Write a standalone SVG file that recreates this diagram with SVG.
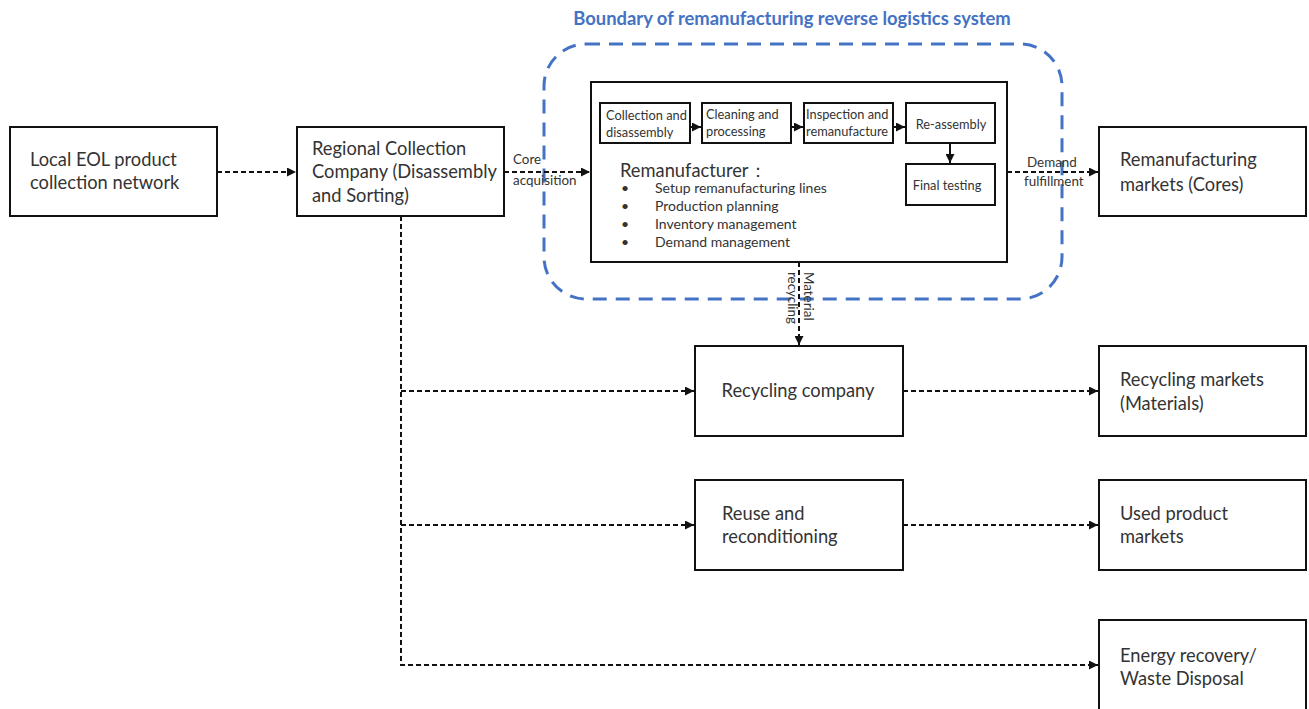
<svg xmlns="http://www.w3.org/2000/svg" width="1309" height="709" viewBox="0 0 1309 709">
<defs>
<marker id="ah" viewBox="0 0 10 10" refX="10" refY="5" markerWidth="9" markerHeight="9" markerUnits="userSpaceOnUse" orient="auto"><path d="M0,0 L10,5 L0,10 Z" fill="#111"/></marker>
</defs>
<style>
.box{fill:#fff;stroke:#111;stroke-width:2}
.t{font-family:Lato,"Open Sans","Liberation Sans",sans-serif;fill:#333;font-size:18.3px}
.s{font-family:Lato,"Open Sans","Liberation Sans",sans-serif;fill:#333;font-size:12.8px}
.b{font-family:Lato,"Open Sans","Liberation Sans",sans-serif;fill:#333;font-size:14px}
.l{font-family:Lato,"Open Sans","Liberation Sans",sans-serif;fill:#333;font-size:13.4px}
.d{fill:none;stroke:#111;stroke-width:2;stroke-dasharray:5,3}
.a{fill:none;stroke:#111;stroke-width:2}
</style>
<rect width="1309" height="709" fill="#fff"/>
<g id="boundary">
<rect x="544" y="44" width="518" height="255" rx="42" fill="none" stroke="#4472c4" stroke-width="3" stroke-dasharray="14,9"/>
<text x="792" y="25" text-anchor="middle" font-family="Lato,'Open Sans','Liberation Sans',sans-serif" font-weight="bold" font-size="18.4" fill="#4472c4">Boundary of remanufacturing reverse logistics system</text>
</g>
<g id="local-eol">
<rect class="box" x="10" y="127" width="207" height="89"/>
<text class="t" x="30" y="166">Local EOL product</text>
<text class="t" x="30" y="189">collection network</text>
</g>
<g id="regional">
<rect class="box" x="297" y="127" width="207" height="89"/>
<text class="t" x="312" y="155">Regional Collection</text>
<text class="t" x="312" y="178">Company (Disassembly</text>
<text class="t" x="312" y="202">and Sorting)</text>
</g>
<g id="remanufacturer">
<rect class="box" x="591" y="82" width="416" height="180"/>
<text class="t" x="620" y="177">Remanufacturer：</text>
<text class="b" x="621" y="193">•</text><text class="b" x="655" y="193">Setup remanufacturing lines</text>
<text class="b" x="621" y="211">•</text><text class="b" x="655" y="211">Production planning</text>
<text class="b" x="621" y="229">•</text><text class="b" x="655" y="229">Inventory management</text>
<text class="b" x="621" y="247">•</text><text class="b" x="655" y="247">Demand management</text>
</g>
<g id="step-collection">
<rect class="box" x="600" y="103" width="90" height="40"/>
<text class="s" x="606" y="120">Collection and</text>
<text class="s" x="606" y="137">disassembly</text>
</g>
<g id="step-cleaning">
<rect class="box" x="702" y="103" width="89" height="40"/>
<text class="s" x="706" y="119">Cleaning and</text>
<text class="s" x="706" y="136">processing</text>
</g>
<g id="step-inspection">
<rect class="box" x="804" y="103" width="89" height="40"/>
<text class="s" x="806" y="119">Inspection and</text>
<text class="s" x="806" y="136">remanufacture</text>
</g>
<g id="step-reassembly">
<rect class="box" x="906" y="103" width="89" height="40"/>
<text class="s" x="951" y="129" text-anchor="middle">Re-assembly</text>
</g>
<g id="step-final">
<rect class="box" x="906" y="164" width="89" height="41"/>
<text class="s" x="947" y="190" text-anchor="middle">Final testing</text>
</g>
<g id="reman-markets">
<rect class="box" x="1099" y="127" width="207" height="89"/>
<text class="t" x="1120" y="166">Remanufacturing</text>
<text class="t" x="1120" y="191">markets (Cores)</text>
</g>
<g id="recycling-company">
<rect class="box" x="695" y="346" width="208" height="90"/>
<text class="t" x="798" y="397" text-anchor="middle">Recycling company</text>
</g>
<g id="recycling-markets">
<rect class="box" x="1099" y="346" width="207" height="90"/>
<text class="t" x="1120" y="386">Recycling markets</text>
<text class="t" x="1120" y="410">(Materials)</text>
</g>
<g id="reuse">
<rect class="box" x="695" y="480" width="208" height="90"/>
<text class="t" x="722" y="520">Reuse and</text>
<text class="t" x="722" y="543">reconditioning</text>
</g>
<g id="used-markets">
<rect class="box" x="1099" y="480" width="207" height="90"/>
<text class="t" x="1120" y="520">Used product</text>
<text class="t" x="1120" y="543">markets</text>
</g>
<g id="energy">
<rect class="box" x="1099" y="620" width="207" height="95"/>
<text class="t" x="1120" y="662">Energy recovery/</text>
<text class="t" x="1120" y="685">Waste Disposal</text>
</g>
<g id="connectors">
<line class="d" x1="217" y1="172" x2="296" y2="172" marker-end="url(#ah)"/>
<line class="d" x1="504" y1="172" x2="590" y2="172" marker-end="url(#ah)"/>
<line class="d" x1="1007" y1="172" x2="1098" y2="172" marker-end="url(#ah)"/>
<line class="d" x1="799" y1="262" x2="799" y2="345" marker-end="url(#ah)"/>
<path class="d" d="M401,216 V665 H1098" marker-end="url(#ah)"/>
<line class="d" x1="401" y1="391" x2="694" y2="391" marker-end="url(#ah)"/>
<line class="d" x1="401" y1="525" x2="694" y2="525" marker-end="url(#ah)"/>
<line class="d" x1="903" y1="391" x2="1098" y2="391" marker-end="url(#ah)"/>
<line class="d" x1="903" y1="525" x2="1098" y2="525" marker-end="url(#ah)"/>
<line class="a" x1="690" y1="127" x2="701" y2="127" marker-end="url(#ah)"/>
<line class="a" x1="791" y1="127" x2="803" y2="127" marker-end="url(#ah)"/>
<line class="a" x1="893" y1="127" x2="905" y2="127" marker-end="url(#ah)"/>
<line class="a" x1="950" y1="143" x2="950" y2="163" marker-end="url(#ah)"/>
<text class="l" x="513" y="164">Core</text>
<text class="l" x="513" y="185">acquisition</text>
<text class="l" x="1027" y="167">Demand</text>
<text class="l" x="1024" y="186">fulfillment</text>
<text class="l" transform="translate(804,272) rotate(90)"><tspan x="0" y="0">Material</tspan><tspan x="0" y="16">recycling</tspan></text>
</g>
</svg>
